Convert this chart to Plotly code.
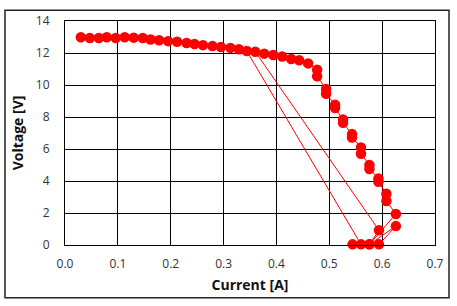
import plotly.graph_objects as go

current = [0.030, 0.047, 0.064, 0.079, 0.096, 0.113, 0.130, 0.147, 0.162, 0.178,
           0.195, 0.212, 0.230, 0.245, 0.261, 0.279, 0.295, 0.313, 0.329, 0.344,
           0.560, 0.544, 0.576, 0.594,
           0.360, 0.377, 0.394, 0.411, 0.428, 0.443, 0.460, 0.477, 0.477,
           0.494, 0.494, 0.511, 0.511, 0.526, 0.526, 0.543, 0.543, 0.560, 0.560,
           0.576, 0.576, 0.593, 0.593, 0.608, 0.608, 0.626, 0.576, 0.626, 0.594]
voltage = [12.98, 12.94, 12.94, 12.98, 12.94, 12.98, 12.96, 12.94, 12.84, 12.80,
           12.74, 12.70, 12.62, 12.56, 12.49, 12.43, 12.37, 12.32, 12.23, 12.12,
           0.04, 0.04, 0.04, 0.92,
           12.08, 11.96, 11.88, 11.78, 11.62, 11.55, 11.35, 10.95, 10.55,
           9.75, 9.45, 8.76, 8.56, 7.84, 7.64, 6.93, 6.72, 6.10, 5.70,
           5.00, 4.75, 4.15, 3.95, 3.20, 2.75, 1.94, 0.04, 1.18, 0.04]

x_ticks = [0.0, 0.1, 0.2, 0.3, 0.4, 0.5, 0.6, 0.7]
y_ticks = [0, 2, 4, 6, 8, 10, 12, 14]

fig = go.Figure()
fig.add_trace(go.Scatter(
    x=current, y=voltage, mode="lines+markers",
    line=dict(color="#ff0000", width=1),
    marker=dict(color="#ff0000", size=10.5, line=dict(width=0)),
    showlegend=False, cliponaxis=False,
))

W, H = 457, 306
L, R, T, B = 65, 22, 16, 61
pw, ph = W - L - R, H - T - B

def px_x(p):
    return (p - L) / pw

def px_y(p):
    return (H - B - p) / ph

fig.add_shape(type="rect", xref="paper", yref="paper",
              x0=px_x(5), x1=px_x(449), y0=px_y(299), y1=px_y(5),
              line=dict(color="#222222", width=1.5), layer="below")

font_family = "Open Sans, Noto Sans, sans-serif"
fig.update_layout(
    width=W, height=H,
    margin=dict(l=L, r=R, t=T, b=B, pad=0),
    paper_bgcolor="white", plot_bgcolor="white",
    font=dict(family=font_family, size=12, color="#333333"),
    xaxis=dict(
        range=[0, 0.7], tickvals=x_ticks, tickformat=".1f",
        showgrid=True, gridcolor="black", gridwidth=1,
        showline=True, linecolor="black", linewidth=1, mirror=True,
        zeroline=False, ticks="", ticklabelstandoff=8,
        title=dict(text="<b>Current [A]</b>", font=dict(size=14, color="#111111"), standoff=8),
    ),
    yaxis=dict(
        range=[0, 14], tickvals=y_ticks,
        showgrid=True, gridcolor="black", gridwidth=1,
        showline=True, linecolor="black", linewidth=1, mirror=True,
        zeroline=False, ticks="", ticklabelstandoff=12,
        title=dict(text="<b>Voltage [V]</b>", font=dict(size=14, color="#111111"), standoff=8),
    ),
)

fig.write_html("out.html")
